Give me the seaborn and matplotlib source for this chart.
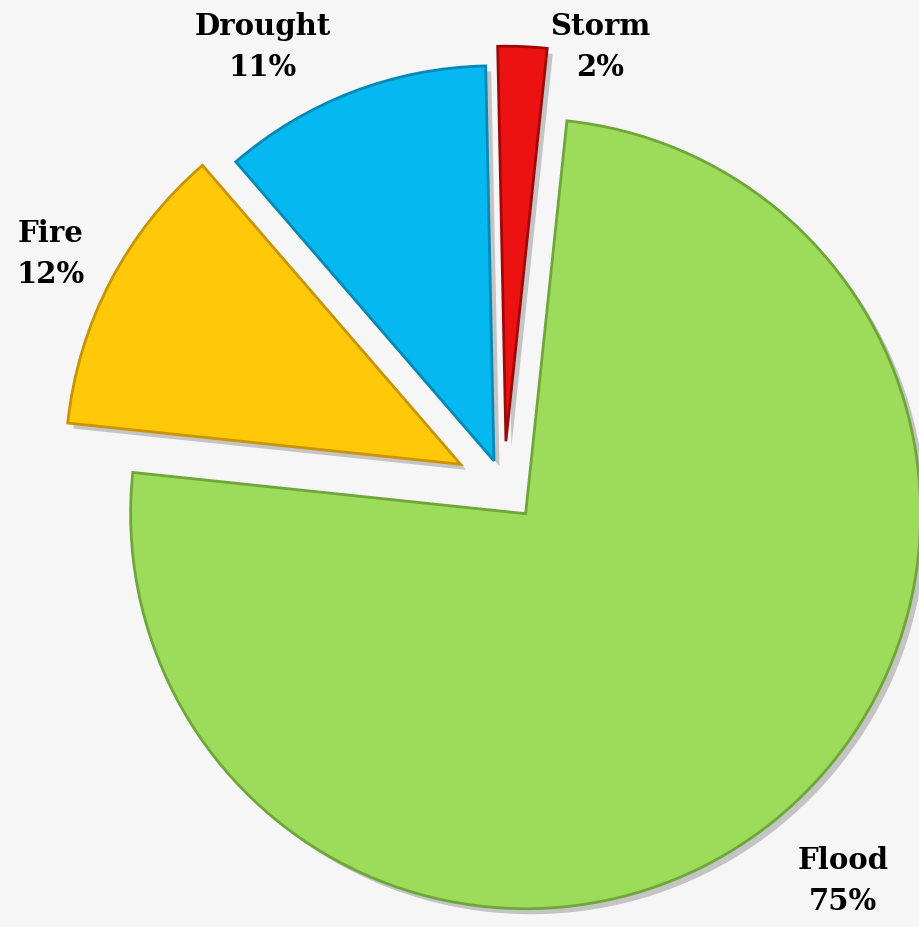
"""Share of disaster types - exploded pie chart."""
import matplotlib
matplotlib.use("Agg")
import matplotlib.patheffects as pe
import matplotlib.pyplot as plt
import seaborn as sns

CATEGORIES = ["Flood", "Fire", "Drought", "Storm"]
SHARES = [75, 12, 11, 2]
COLORS = ["#9cdc5a", "#ffc90a", "#05b9f0", "#ec1212"]
EDGE_COLORS = ["#6fa63a", "#c99400", "#0389b6", "#a00808"]
EXPLODE = [0.087, 0.124, 0.071, 0.116]

# label anchor points in data units (pie radius = 1)
LABEL_XY = {
    "Flood": (0.858, -0.995),
    "Fire": (-1.149, 0.592),
    "Drought": (-0.610, 1.116),
    "Storm": (0.243, 1.116),
}

BG = "#f6f6f6"

sns.set_theme(style="white")
plt.rcParams["font.family"] = ["DejaVu Serif"]

fig = plt.figure(figsize=(9.2, 9.28), dpi=100, facecolor=BG)
ax = fig.add_axes([0, 0, 1, 1])
ax.set_facecolor(BG)

wedges, _ = ax.pie(
    SHARES,
    explode=EXPLODE,
    colors=COLORS,
    startangle=84,
    counterclock=False,
    radius=1,
    wedgeprops=dict(linewidth=2.0),
)
for w, ec in zip(wedges, EDGE_COLORS):
    w.set_edgecolor(ec)
    w.set_path_effects([
        pe.SimplePatchShadow(offset=(4, -4), shadow_rgbFace="black", alpha=0.2),
        pe.Normal(),
    ])

for cat, share in zip(CATEGORIES, SHARES):
    x, y = LABEL_XY[cat]
    ax.text(x, y, f"{cat}\n{share}%", ha="center", va="center",
            fontsize=21, fontweight="bold", color="black", linespacing=1.5)

# pie centre sits at pixel (504, 488), radius 395 px
ax.set_aspect("auto")
ax.set_xlim(-504 / 395, 416 / 395)
ax.set_ylim(-440 / 395, 488 / 395)
ax.axis("off")

fig.savefig("out.png", dpi=100, facecolor=BG)
plt.close(fig)
